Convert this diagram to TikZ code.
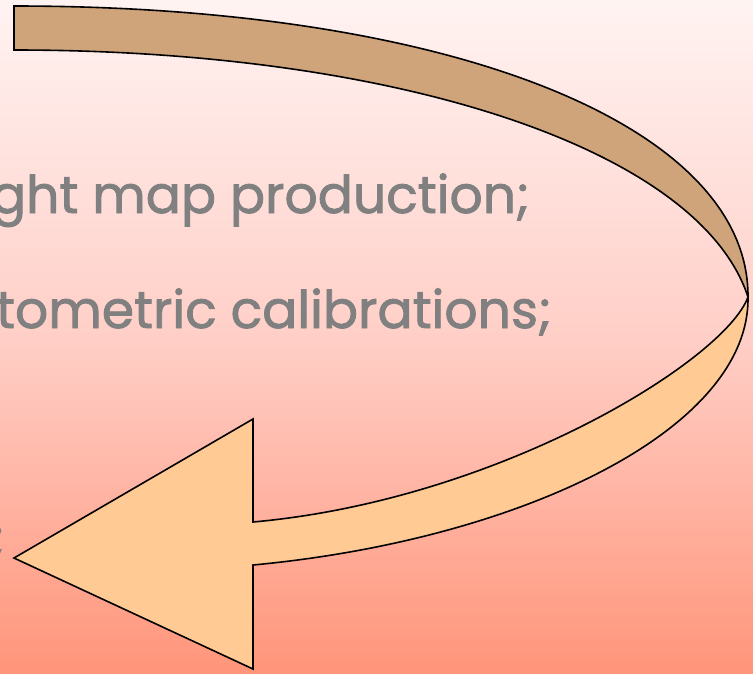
\documentclass[tikz,border=0pt]{standalone}
\usepackage{fontspec}
\setmainfont{Poppins}
\newfontfamily\itemfont{Poppins}[FakeBold=1.6]
\usetikzlibrary{positioning}

\definecolor{bgtop}{HTML}{FFF3F2}
\definecolor{bgmid}{HTML}{FFCFC7}
\definecolor{bgbot}{HTML}{FF957A}
\definecolor{itemgray}{HTML}{808080}
\definecolor{bandtan}{HTML}{CFA47A}
\definecolor{bandpeach}{HTML}{FFCA94}

\tikzset{
  itemtext/.style={font=\itemfont\fontsize{52}{60}\selectfont, text=itemgray, inner sep=0pt, anchor=base east},
  band/.style={draw=black, line width=1.6pt, line join=miter}
}

\begin{document}
\begin{tikzpicture}[x=1pt, y=-1pt]
	\useasboundingbox (0,0) rectangle (753,673);
	\shade[top color=bgtop, bottom color=bgbot, middle color=bgmid] (0,0) rectangle (753,673);
	% list items, cut at the left edge
	\node[itemtext] (mapline) at (530,213) {ght map production;};
	\node[itemtext] (calline) at (552,328) {tometric calibrations;};
	\node[itemtext] (lastline) at (5,556) {;};
	% curved arrow
	\coordinate (tail top) at (14,6);
	\coordinate (tail bottom) at (14,50);
	\coordinate (turn) at (748,297);
	\coordinate (neck top) at (253,522);
	\coordinate (neck bottom) at (253,565);
	\coordinate (tip) at (14,558);
	\fill[bandtan, band] (tail top) -- (tail bottom) .. controls (400,50) and (700,150) .. (turn)
		.. controls (749,125) and (450,6) .. (tail top) -- cycle;
	\fill[bandpeach, band] (turn) .. controls (750,430) and (520,540) .. (neck bottom)
		-- (253,669) -- (tip) -- (253,419) -- (neck top)
		.. controls (500,500) and (725,360) .. (turn) -- cycle;
\end{tikzpicture}
\end{document}
